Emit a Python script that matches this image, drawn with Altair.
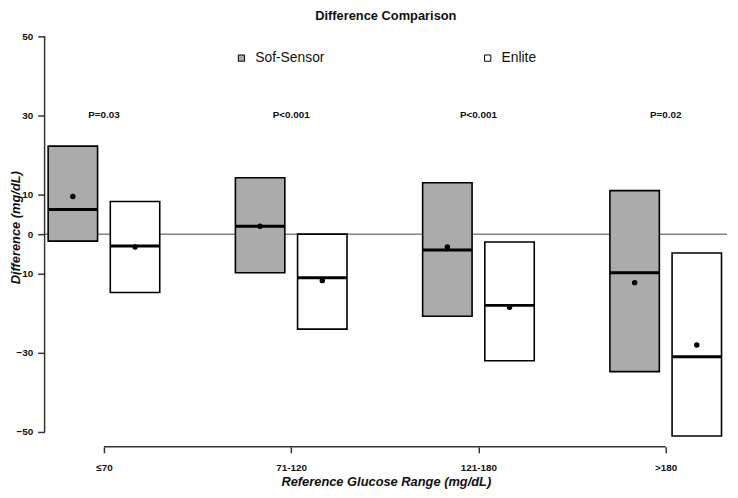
import json
import altair as alt
import pandas as pd

# ---------------- data ----------------
categories = ["≤70", "71-120", "121-180", ">180"]
p_values = ["P=0.03", "P<0.001", "P<0.001", "P=0.02"]
sensors = ["Sof-Sensor", "Enlite"]

sof_q1 = [-1.75, -9.75, -20.75, -34.75]
sof_q3 = [22.25, 14.25, 13.0, 11.0]
sof_median = [6.25, 2.0, -4.0, -9.75]
sof_mean = [9.5, 2.0, -3.25, -12.25]

enl_q1 = [-14.75, -24.0, -32.0, -51.0]
enl_q3 = [8.25, 0.0, -2.0, -4.75]
enl_median = [-3.0, -11.0, -18.0, -31.0]
enl_mean = [-3.25, -11.75, -18.5, -28.0]

y_ticks = [-50, -30, -10, 0, 10, 30, 50]

# ---------------- layout / style ----------------
FONT = "Liberation Sans"
W, H = 690, 406
X_DOMAIN = [1 - 60 / (568 / 3), 1 + 630 / (568 / 3)]
Y_DOMAIN = [-51.5, 50]
OFFSET = {"Sof-Sensor": -0.166, "Enlite": 0.166}
HALF = 0.132
P_Y = 30

rows = []
series = {
    "Sof-Sensor": (sof_q1, sof_q3, sof_median, sof_mean),
    "Enlite": (enl_q1, enl_q3, enl_median, enl_mean),
}
for s in sensors:
    q1, q3, med, mean = series[s]
    for i, c in enumerate(categories):
        g = i + 1
        ctr = g + OFFSET[s]
        rows.append(dict(sensor=s, category=c, group=g, center=ctr,
                         left=ctr - HALF, right=ctr + HALF,
                         q1=q1[i], q3=q3[i], median=med[i], mean=mean[i]))
df = pd.DataFrame(rows)

ptab = pd.DataFrame({"group": [i + 1 for i in range(len(categories))],
                     "label": p_values, "py": [P_Y] * len(categories)})

xscale = alt.Scale(domain=X_DOMAIN, nice=False, zero=False)
yscale = alt.Scale(domain=Y_DOMAIN, nice=False, zero=False)

label_expr = json.dumps(categories) + "[datum.value - 1]"
xaxis = alt.Axis(values=[1, 2, 3, 4], labelExpr=label_expr, offset=9,
                 tickSize=6, tickWidth=1.5, tickColor="#333333", domain=False,
                 grid=False, labelFont=FONT, labelFontSize=10,
                 labelFontWeight="bold", labelColor="#111111", labelPadding=10,
                 title="Reference Glucose Range (mg/dL)", titleFont=FONT,
                 titleFontSize=13, titleFontWeight="bold",
                 titleFontStyle="italic", titleColor="#111111", titlePadding=3)
yaxis = alt.Axis(values=y_ticks, tickSize=7, tickWidth=1.5, tickColor="#333333",
                 domain=False, grid=False, labelFont=FONT, labelFontSize=10,
                 labelFontWeight="bold", labelColor="#111111", labelPadding=5,
                 title="Difference (mg/dL)", titleFont=FONT, titleFontSize=13,
                 titleFontWeight="bold", titleFontStyle="italic",
                 titleColor="#111111", titleAngle=270, titleX=-29.5, titleY=193,
                 titleAlign="center", titleBaseline="middle")


def X(field):
    return alt.X(field, type="quantitative", scale=xscale, axis=xaxis)


def Y(field):
    return alt.Y(field, type="quantitative", scale=yscale, axis=yaxis)


zero = alt.Chart(pd.DataFrame({"z": [0]})).mark_rule(
    color="#444444", strokeWidth=1).encode(
    y=Y("z"), x=alt.value(0), x2=alt.value(W))

yline = alt.Chart(pd.DataFrame({"lo": [y_ticks[0]], "hi": [y_ticks[-1]]})).mark_rule(
    color="#333333", strokeWidth=1.5).encode(
    y=Y("lo"), y2="hi", x=alt.value(0))

xline = alt.Chart(pd.DataFrame({"lo": [1], "hi": [len(categories)]})).mark_rule(
    color="#333333", strokeWidth=1.5).encode(
    x=X("lo"), x2="hi", y=alt.value(H + 9))

boxes = alt.Chart(df).mark_rect(stroke="black", strokeWidth=1.6).encode(
    x=X("left"), x2="right", y=Y("q1"), y2="q3",
    fill=alt.Fill("sensor:N", sort=sensors,
                  scale=alt.Scale(domain=sensors, range=["#ababab", "#ffffff"]),
                  legend=alt.Legend(orient="none", legendX=192, legendY=15,
                                    direction="horizontal", title=None,
                                    symbolType="square", symbolSize=40,
                                    symbolStrokeColor="black",
                                    symbolStrokeWidth=1, labelFont=FONT,
                                    labelFontSize=14, labelColor="#111111",
                                    labelOffset=7, columnPadding=157)))

medians = alt.Chart(df).mark_rule(color="black", strokeWidth=3).encode(
    x=X("left"), x2="right", y=Y("median"))

means = alt.Chart(df).mark_circle(color="black", size=30, opacity=1).encode(
    x=X("center"), y=Y("mean"))

ptext = alt.Chart(ptab).mark_text(font=FONT, fontSize=10, fontWeight="bold",
                                  color="#111111").encode(
    x=X("group"), y=Y("py"), text="label:N")

chart = alt.layer(zero, yline, xline, boxes, medians, means, ptext).properties(
    width=W, height=H,
    title=alt.TitleParams("Difference Comparison", font=FONT, fontSize=13,
                          fontWeight="bold", anchor="middle", color="#111111",
                          offset=9),
    autosize=alt.AutoSizeParams(type="none"),
    padding={"left": 37, "top": 26, "right": 3, "bottom": 50},
    background="white",
).configure_view(stroke=None)

chart.save("out.html", embed_options={"renderer": "svg", "actions": False})
